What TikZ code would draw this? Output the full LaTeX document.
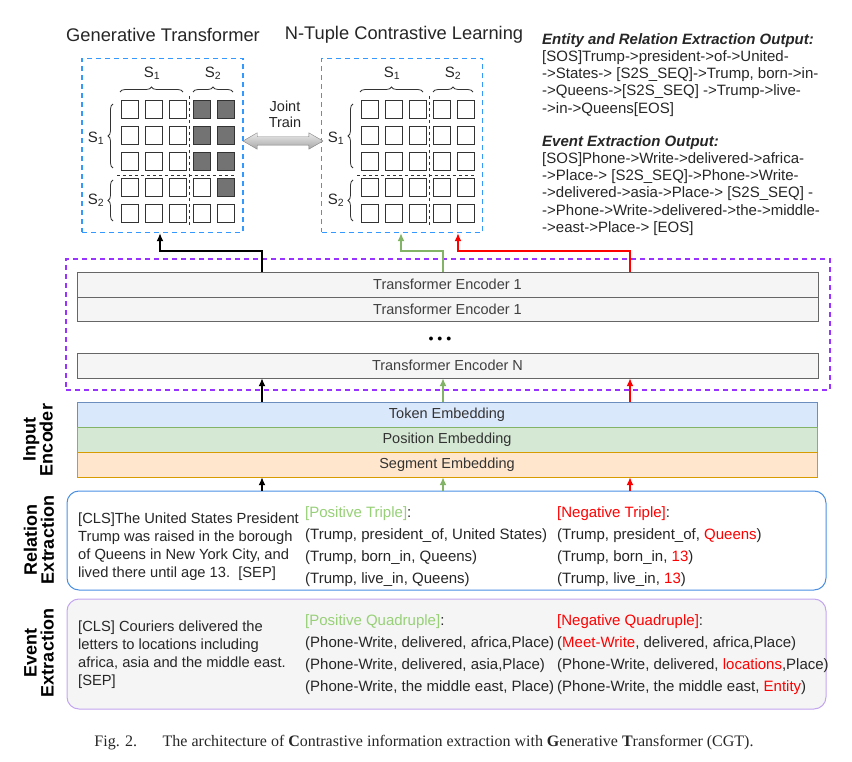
\documentclass[tikz,border=0pt]{standalone}
\usepackage{fontspec}
\setmainfont{Liberation Sans}
\newfontfamily\capfont{Liberation Serif}
\usetikzlibrary{arrows.meta,shapes.arrows,decorations.pathreplacing}

\definecolor{boxblue}{HTML}{3399FF}
\definecolor{encpurple}{HTML}{9933FF}
\definecolor{relblue}{HTML}{4A90E2}
\definecolor{evpurple}{HTML}{C3A6F0}
\definecolor{posgreen}{HTML}{97D077}
\definecolor{arrgreen}{HTML}{82B366}
\definecolor{negred}{HTML}{FF0000}
\definecolor{tokline}{HTML}{6C8EBF}
\definecolor{tokfill}{HTML}{DAE8FC}
\definecolor{posline}{HTML}{82B366}
\definecolor{posfill}{HTML}{D5E8D4}
\definecolor{segline}{HTML}{D79B00}
\definecolor{segfill}{HTML}{FFE6CC}

\begin{document}
\begin{tikzpicture}[x=1pt, y=-1pt, >={Latex[length=8pt,width=7pt]},
    cell/.style = {draw=black!80, line width=0.9pt, fill=white},
    dbox/.style = {draw=boxblue, dashed, line width=1.3pt, dash pattern=on 5pt off 4pt, minimum width=161, minimum height=174},
    enc/.style = {draw=black!60, fill=black!4, minimum width=741, minimum height=25, font=\fontsize{14.5}{16}\selectfont, text=black!75},
    emb/.style = {minimum width=740, minimum height=25, font=\fontsize{14.5}{16}\selectfont, text=black!80},
    side/.style = {rotate=90, align=center, font=\fontsize{18}{17}\selectfont\bfseries},
    txt/.style = {anchor=north west, align=left, inner sep=0, font=\fontsize{14.7}{18}\selectfont, text=black!85},
    tup/.style = {anchor=north west, align=left, inner sep=0, font=\fontsize{15}{22}\selectfont, text=black!85},
    otxt/.style = {anchor=north west, align=left, inner sep=0, font=\fontsize{15}{17.3}\selectfont, text=black!85},
    brc/.style = {decorate, decoration={brace, amplitude=5pt}, line width=0.8pt, black!80},
    lab/.style = {font=\fontsize{15}{15}\selectfont, text=black!85},
    link/.style = {->, line width=1.5pt}]
\useasboundingbox (0,0) rectangle (852,762);

% titles
\node[font=\fontsize{18.3}{18}\selectfont, text=black!85] (gtt) at (163,35) {Generative Transformer};
\node[font=\fontsize{18.3}{18}\selectfont, text=black!85] (ntt) at (404,35) {N-Tuple Contrastive Learning};

% attention grids
\node[dbox] (gt) at (162.5,145.5) {};
\node[dbox] (nt) at (402,145.5) {};
\foreach \dx in {0,240} {
  \begin{scope}[xshift=\dx]
    \foreach \c in {0,...,4}
      \foreach \r in {0,...,4}
        \draw[cell] (121+24*\c,100+26*\r) rectangle ++(17,18);
    \draw[dashed, line width=0.8pt, black!80] (189,96) -- (189,226);
    \draw[dashed, line width=0.8pt, black!80] (117,175.5) -- (236,175.5);
    \draw[brc] (120,92) -- (183,92);
    \draw[brc] (193,92) -- (233,92);
    \draw[brc] (113,168) -- (113,104);
    \draw[brc] (113,221) -- (113,180);
    \node[lab] at (152,73) {S\textsubscript{1}};
    \node[lab] at (213,73) {S\textsubscript{2}};
    \node[lab] at (96,138) {S\textsubscript{1}};
    \node[lab] at (96,200) {S\textsubscript{2}};
  \end{scope}
}
\foreach \c/\r in {3/0,4/0,3/1,4/1,3/2,4/2,4/3}
  \draw[cell, fill=black!55] (121+24*\c,100+26*\r) rectangle ++(17,18);

% joint training
\node[double arrow, draw=black!50, top color=black!8, bottom color=black!35, inner sep=4pt,
      double arrow head extend=4pt, double arrow tip angle=60, minimum height=80] (jt) at (283,141) {};
\node[align=center, font=\fontsize{14.5}{16}\selectfont, text=black!85] (jtl) at (285,114) {Joint\\Train};

% outputs
\node[otxt] (reout) at (542,33) {\textbf{\textit{Entity and Relation Extraction Output:}}\\{}[SOS]Trump->president->of->United-\\->States-> [S2S\_SEQ]->Trump, born->in-\\->Queens->[S2S\_SEQ] ->Trump->live-\\->in->Queens[EOS]};
\node[otxt] (evout) at (542,135) {\textbf{\textit{Event Extraction Output:}}\\{}[SOS]Phone->Write->delivered->africa-\\->Place-> [S2S\_SEQ]->Phone->Write-\\->delivered->asia->Place-> [S2S\_SEQ] -\\->Phone->Write->delivered->the->middle-\\->east->Place-> [EOS]};

% transformer encoders
\node[draw=encpurple, dashed, line width=1.3pt, dash pattern=on 5pt off 4pt, minimum width=764, minimum height=131] (stack) at (448,324.5) {};
\node[enc] (enc1) at (447.5,284.5) {Transformer Encoder 1};
\node[enc, minimum height=24] (enc2) at (447.5,309) {Transformer Encoder 1};
\node (dots) at (440,339) {$\bullet\,\bullet\,\bullet$};
\node[enc] (encn) at (447.5,365.5) {Transformer Encoder N};

% input encoder
\node[emb, draw=tokline, fill=tokfill] (tok) at (447,414.5) {Token Embedding};
\node[emb, draw=posline, fill=posfill] (pos) at (447,439.5) {Position Embedding};
\node[emb, draw=segline, fill=segfill] (seg) at (447,464.5) {Segment Embedding};
\node[side] (inl) at (38,440) {Input\\Encoder};

% extraction inputs
\node[draw=relblue, line width=1pt, rounded corners=12pt, fill=white, minimum width=759, minimum height=99] (rel) at (446.5,540.5) {};
\node[draw=evpurple, line width=1pt, rounded corners=12pt, fill=black!4, minimum width=759, minimum height=110] (ev) at (446.5,654) {};
\node[side] (rell) at (39,540) {Relation\\Extraction};
\node[side] (evl) at (39,653) {Event\\Extraction};

\node[txt] (relsent) at (78,513) {[CLS]The United States President\\Trump was raised in the borough\\of Queens in New York City, and\\lived there until age 13.\ \ [SEP]};
\node[tup] (relpos) at (305,506) {\textcolor{posgreen}{[Positive Triple]}:\\(Trump, president\_of, United States)\\(Trump, born\_in, Queens)\\(Trump, live\_in, Queens)};
\node[tup] (relneg) at (557,506) {\textcolor{negred}{[Negative Triple]}:\\(Trump, president\_of, \textcolor{negred}{Queens})\\(Trump, born\_in, \textcolor{negred}{13})\\(Trump, live\_in, \textcolor{negred}{13})};

\node[txt] (evsent) at (78,621) {[CLS] Couriers delivered the\\letters to locations including\\africa, asia and the middle east.\\{}[SEP]};
\node[tup] (evpos) at (305,614) {\textcolor{posgreen}{[Positive Quadruple]}:\\(Phone-Write, delivered, africa,Place)\\(Phone-Write, delivered, asia,Place)\\(Phone-Write, the middle east, Place)};
\node[tup] (evneg) at (557,614) {\textcolor{negred}{[Negative Quadruple]}:\\(\textcolor{negred}{Meet-Write}, delivered, africa,Place)\\(Phone-Write, delivered, \textcolor{negred}{locations},Place)\\(Phone-Write, the middle east, \textcolor{negred}{Entity})};

% arrow columns
\coordinate (cb) at (262,0);
\coordinate (cg) at (443,0);
\coordinate (cr) at (630,0);
\draw[link] (rel.north -| cb) -- (seg.south -| cb);
\draw[link, arrgreen] (rel.north -| cg) -- (seg.south -| cg);
\draw[link, negred] (rel.north -| cr) -- (seg.south -| cr);
\draw[link] (tok.north -| cb) -- (encn.south -| cb);
\draw[link, arrgreen] (tok.north -| cg) -- (encn.south -| cg);
\draw[link, negred] (tok.north -| cr) -- (encn.south -| cr);
\draw[link] (enc1.north -| cb) -- ++(0,-21) -| ([xshift=-2.5]gt.south);
\draw[link, arrgreen] (enc1.north -| cg) -- ++(0,-21) -| ([xshift=-1]nt.south);
\draw[link, negred] (enc1.north -| cr) -- ++(0,-21) -| ([xshift=56]nt.south);

% caption
\node[font=\capfont\fontsize{16}{18}\selectfont, text=black!85] (cap) at (424,743) {Fig. 2.\hspace{1.6em}The architecture of \textbf{C}ontrastive information extraction with \textbf{G}enerative \textbf{T}ransformer (CGT).};
\end{tikzpicture}
\end{document}
